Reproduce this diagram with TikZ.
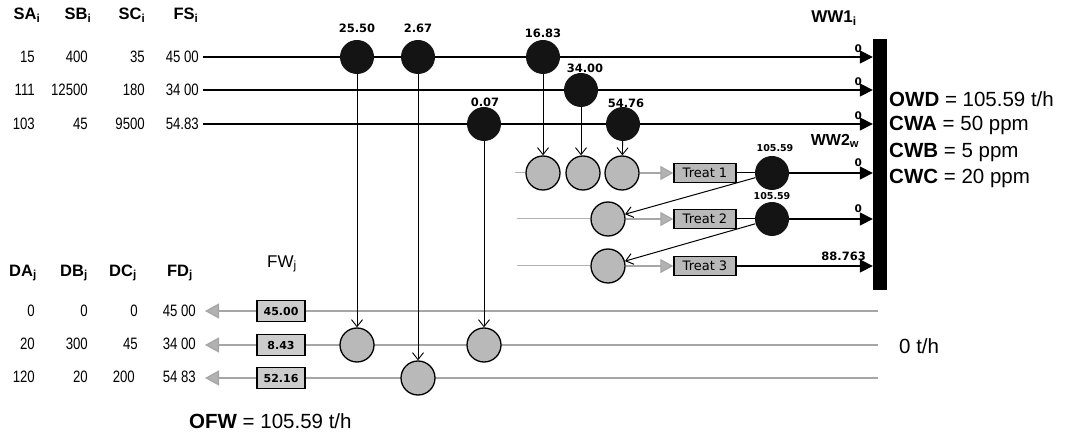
\documentclass[tikz,border=0pt]{standalone}
\usepackage{fontspec}
\setmainfont{Liberation Sans}
\newfontfamily\dv{DejaVu Sans}
\newfontfamily\narrowf[FakeStretch=0.8]{Liberation Sans}
\usetikzlibrary{arrows.meta}
\pgfdeclarelayer{bg}
\pgfsetlayers{bg,main}
\tikzset{
  blk/.style={circle, fill=black!92, minimum size=34pt, inner sep=0pt},
  gry/.style={circle, fill=gray!55, draw=black, line width=1.3pt, minimum size=34pt, inner sep=0pt},
  tbox/.style={draw=black, fill=gray!55, line width=1.3pt, minimum width=62pt, minimum height=19pt, inner sep=0pt, font=\dv\fontsize{13}{14}\selectfont},
  fbox/.style={draw=black, fill=gray!40, line width=1.3pt, minimum width=48pt, minimum height=21pt, inner sep=0pt, font=\dv\bfseries\fontsize{11}{12}\selectfont},
  walla/.style={line width=1.6pt, -{Triangle[length=13pt,width=13pt]}},
  vdown/.style={line width=0.9pt, -{Straight Barb[length=7pt,width=11pt]}},
  gline/.style={draw=gray!70, line width=1.3pt},
  lgline/.style={draw=gray!60, line width=1pt},
  garrow/.style={draw=gray!70, line width=1.1pt, -{Triangle[length=13pt,width=14pt,fill=gray!60]}},
  garrowl/.style={draw=gray!70, line width=1.3pt, -{Triangle[length=14pt,width=15pt,fill=gray!60]}},
  num/.style={font=\dv\bfseries\fontsize{11.5}{12}\selectfont, inner sep=0pt},
  snum/.style={font=\dv\bfseries\fontsize{9.5}{10}\selectfont, inner sep=0pt},
  zero/.style={font=\dv\bfseries\fontsize{10.5}{11}\selectfont, inner sep=0pt, anchor=south east},
  hd/.style={font=\bfseries\fontsize{16.5}{17}\selectfont, inner sep=0pt},
  val/.style={font=\narrowf\fontsize{16.5}{17}\selectfont, inner sep=0pt, anchor=east},
  big/.style={font=\fontsize{20.5}{22}\selectfont, inner sep=0pt, anchor=west},
}
\begin{document}
\begin{tikzpicture}[x=1pt,y=-1pt]
\useasboundingbox (0,0) rectangle (1072,438);

% wall bar
\node[fill=black, minimum width=14pt, minimum height=251pt, inner sep=0pt] (bar) at (880,164.5) {};

% source coordinates
\coordinate (s1) at (203,57);
\coordinate (s2) at (203,90);
\coordinate (s3) at (203,124);

% black splitters
\node[blk] (b1) at (357,57) {};
\node[blk] (b2) at (418,57) {};
\node[blk] (b3) at (543,57) {};
\node[blk] (b4) at (581,90) {};
\node[blk] (b5) at (484,124) {};
\node[blk] (b6) at (623,124) {};

\node[num] at (357,28) {25.50};
\node[num] at (418,28) {2.67};
\node[num] at (543,33) {16.83};
\node[num] at (585,68) {34.00};
\node[num] at (485,102) {0.07};
\node[num] at (626,103) {54.76};

% treatment mixers
\node[gry] (m1) at (543,173) {};
\node[gry] (m2) at (583,173) {};
\node[gry] (m3) at (622,173) {};
\node[gry] (m4) at (608,219) {};
\node[gry] (m5) at (608,266) {};
\coordinate (r1) at (515,173);
\coordinate (r2) at (517,219);
\coordinate (r3) at (517,266);

\node[tbox] (t1) at (705,173) {Treat 1};
\node[tbox] (t2) at (705,219) {Treat 2};
\node[tbox] (t3) at (705,266) {Treat 3};

\node[blk] (k1) at (772,173) {};
\node[blk] (k2) at (772,219) {};
\node[snum] at (775,148) {105.59};
\node[snum] at (772,196) {105.59};

% sink mixers and fresh water
\node[gry] (d1) at (357,345) {};
\node[gry] (d2) at (418,378) {};
\node[gry] (d3) at (484,345) {};
\node[fbox] (f1) at (281,311) {45.00};
\node[fbox] (f2) at (281,345) {8.43};
\node[fbox] (f3) at (281,378) {52.16};
\coordinate (e1) at (878,311);
\coordinate (e2) at (878,345);
\coordinate (e3) at (878,378);
\coordinate (o1) at (205,311);
\coordinate (o2) at (205,345);
\coordinate (o3) at (205,378);

\begin{pgfonlayer}{bg}
  % source lines to wall
  \draw[walla] (s1) -- (bar.west |- s1);
  \draw[walla] (s2) -- (bar.west |- s2);
  \draw[walla] (s3) -- (bar.west |- s3);
  % sink lines
  \draw[gline] (e1) -- (f1.east);
  \draw[gline] (e2) -- (f2.east);
  \draw[gline] (e3) -- (f3.east);
  % light lines into mixers
  \draw[lgline] (r1) -- (m1.west);
  \draw[lgline] (r2) -- (m4.west);
  \draw[lgline] (r3) -- (m5.west);
\end{pgfonlayer}

% vertical distribution arrows
\draw[vdown] (b1) -- (d1);
\draw[vdown] (b2) -- (d2);
\draw[vdown] (b5) -- (d3);
\draw[vdown] (b3) -- (m1);
\draw[vdown] (b4.south) -- (m2.north -| b4);
\draw[vdown] (b6) -- (m3);

% gray arrows into treatments
\draw[garrow] (m3) -- (t1);
\draw[garrow] (m4) -- (t2);
\draw[garrow] (m5) -- (t3);

% treatment outlets
\draw[line width=2.6pt] (t1.east) -- (k1);
\draw[line width=0.9pt, white] (t1.east) -- (k1.west);
\draw[line width=2.6pt] (t2.east) -- (k2);
\draw[line width=0.9pt, white] (t2.east) -- (k2.west);
\draw[walla] (k1) -- (bar.west |- k1);
\draw[walla] (k2) -- (bar.west |- k2);
\draw[walla] (t3) -- (bar.west |- t3);
\draw[line width=1pt, -{Straight Barb[length=7pt,width=11pt]}] (k1) -- (m4);
\draw[line width=1pt, -{Straight Barb[length=7pt,width=11pt]}] (k2) -- (m5);

% fresh water arrows to sinks
\draw[garrowl] (f1.west) -- (o1);
\draw[garrowl] (f2.west) -- (o2);
\draw[garrowl] (f3.west) -- (o3);

% labels on wall arrows
\node[zero] at (862,53) {0};
\node[zero] at (862,86) {0};
\node[zero] at (862,120) {0};
\node[zero] at (862,167) {0};
\node[zero] at (862,213) {0};
\node[num, anchor=south east] at (866,261) {88.763};

% headers
\node[font=\bfseries\fontsize{17}{18}\selectfont, inner sep=0pt] at (834,18) {WW1\textsubscript{i}};
\node[font=\bfseries\fontsize{16}{17}\selectfont, inner sep=0pt] at (835,141) {WW2\textsubscript{w}};

\node[hd] at (27,15) {SA\textsubscript{i}};
\node[hd] at (78,15) {SB\textsubscript{i}};
\node[hd] at (132,15) {SC\textsubscript{i}};
\node[hd] at (186,15) {FS\textsubscript{i}};

\node[val] at (35,57) {15};
\node[val] at (88,57) {400};
\node[val] at (145,57) {35};
\node[val] at (199,57) {45 00};
\node[val] at (35,90) {111};
\node[val] at (88,90) {12500};
\node[val] at (145,90) {180};
\node[val] at (199,90) {34 00};
\node[val] at (35,124) {103};
\node[val] at (88,124) {45};
\node[val] at (145,124) {9500};
\node[val] at (199,124) {54.83};

\node[hd] at (23,273) {DA\textsubscript{j}};
\node[hd] at (74,273) {DB\textsubscript{j}};
\node[hd] at (123,273) {DC\textsubscript{j}};
\node[hd] at (180,273) {FD\textsubscript{j}};
\node[font=\fontsize{17}{18}\selectfont, inner sep=0pt] at (282,264) {FW\textsubscript{j}};

\node[val] at (35,311) {0};
\node[val] at (88,311) {0};
\node[val] at (138,311) {0};
\node[val] at (196,311) {45 00};
\node[val] at (35,344) {20};
\node[val] at (88,344) {300};
\node[val] at (138,344) {45};
\node[val] at (196,344) {34 00};
\node[val] at (35,377) {120};
\node[val] at (88,377) {20};
\node[val] at (135,377) {200};
\node[val] at (196,377) {54 83};

% summary texts
\node[big] at (889,99) {\textbf{OWD} = 105.59 t/h};
\node[big] at (889,125) {\textbf{CWA} = 50 ppm};
\node[big] at (889,152) {\textbf{CWB} = 5 ppm};
\node[big] at (889,178) {\textbf{CWC} = 20 ppm};
\node[big] at (189,421) {\textbf{OFW} = 105.59 t/h};
\node[big] at (899,346) {0 t/h};
\end{tikzpicture}
\end{document}
